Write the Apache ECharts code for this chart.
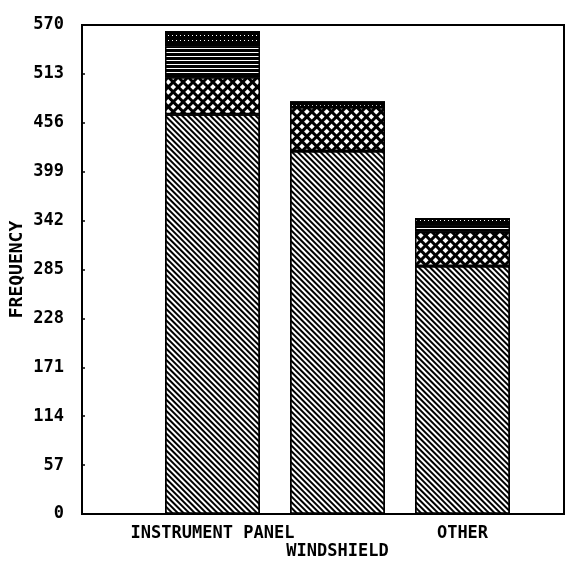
<!DOCTYPE html>
<html>
<head>
<meta charset="utf-8">
<script src="https://cdn.jsdelivr.net/npm/echarts@6/dist/echarts.min.js"></script>
<style>
  html, body { margin: 0; padding: 0; background: #fff; }
  #chart { width: 568px; height: 567px; }
</style>
</head>
<body>
<div id="chart"></div>
<script>
const categories = ['INSTRUMENT PANEL', 'WINDSHIELD', 'OTHER']
const yTicks = [0, 57, 114, 171, 228, 285, 342, 399, 456, 513, 570]

// stacked segments, bottom to top
const diagonalPart = [466, 423, 289]
const crossPart = [43, 51, 40]
const linesPart = [36, 0, 7]
const topPart = [18, 7, 9]

const font = 'DejaVu Sans Mono'

const chart = echarts.init(document.getElementById('chart'))

const seg = (name, data, bg, decal) => ({
  name,
  type: 'bar',
  stack: 'total',
  xAxisIndex: 1,
  yAxisIndex: 1,
  barWidth: 95,
  data,
  itemStyle: {
    color: bg,
    borderColor: '#000',
    borderWidth: 1.5,
    decal,
  },
})

const option = {
  animation: false,
  backgroundColor: '#fff',
  grid: [
    { left: 82, right: 4, top: 25, bottom: 53, outerBoundsMode: 'none', show: true, borderColor: '#000', borderWidth: 2 },
    { left: 150, right: 43, top: 25, bottom: 53, outerBoundsMode: 'none' },
  ],
  xAxis: [
    {
      gridIndex: 0,
      type: 'value',
      min: 0,
      max: 1,
      axisLine: { show: true, lineStyle: { color: '#000', width: 2 } },
      axisTick: { show: false },
      axisLabel: { show: false },
      splitLine: { show: false },
    },
    {
      gridIndex: 1,
      type: 'category',
      data: categories,
      axisLine: { show: false },
      axisTick: { show: false },
      axisLabel: {
        interval: 0,
        margin: 11,
        color: '#000',
        fontFamily: font,
        fontWeight: 'bold',
        fontSize: 17,
        lineHeight: 18,
        formatter: (v, i) => (i === 1 ? '\n' + v : v),
      },
    },
  ],
  yAxis: [
    {
      gridIndex: 0,
      type: 'value',
      min: 0,
      max: 570,
      interval: 57,
      name: 'FREQUENCY',
      nameLocation: 'middle',
      nameGap: 56,
      nameMoveOverlap: false,
      nameTextStyle: { color: '#000', fontFamily: font, fontWeight: 'bold', fontSize: 18 },
      axisLine: { show: true, lineStyle: { color: '#000', width: 1.5 } },
      axisTick: { show: true, inside: true, length: 3, lineStyle: { color: '#000', width: 1.5 } },
      axisLabel: {
        margin: 18,
        color: '#000',
        fontFamily: font,
        fontWeight: 'bold',
        fontSize: 17,
        formatter: v => (yTicks.includes(v) ? String(v) : ''),
      },
      splitLine: { show: false },
    },
    {
      gridIndex: 1,
      type: 'value',
      min: 0,
      max: 570,
      show: false,
      splitLine: { show: false },
    },
  ],
  series: [
    seg('diagonal', diagonalPart, '#fff', {
      color: '#000',
      symbol: 'rect',
      dashArrayX: [1, 0],
      dashArrayY: [2, 2],
      rotation: Math.PI / 4,
    }),
    seg('cross', crossPart, '#000', {
      color: '#fff',
      symbol: 'rect',
      symbolSize: 1,
      dashArrayX: [4, 3],
      dashArrayY: [4, 3],
      rotation: Math.PI / 4,
    }),
    seg('lines', linesPart, '#000', {
      color: '#fff',
      symbol: 'rect',
      dashArrayX: [1, 0],
      dashArrayY: [1, 3],
    }),
    seg('top', topPart, '#000', {
      color: '#fff',
      symbol: 'rect',
      symbolSize: 1,
      dashArrayX: [1, 3],
      dashArrayY: [1, 4],
    }),
  ],
}

chart.setOption(option)
</script>
</body>
</html>
